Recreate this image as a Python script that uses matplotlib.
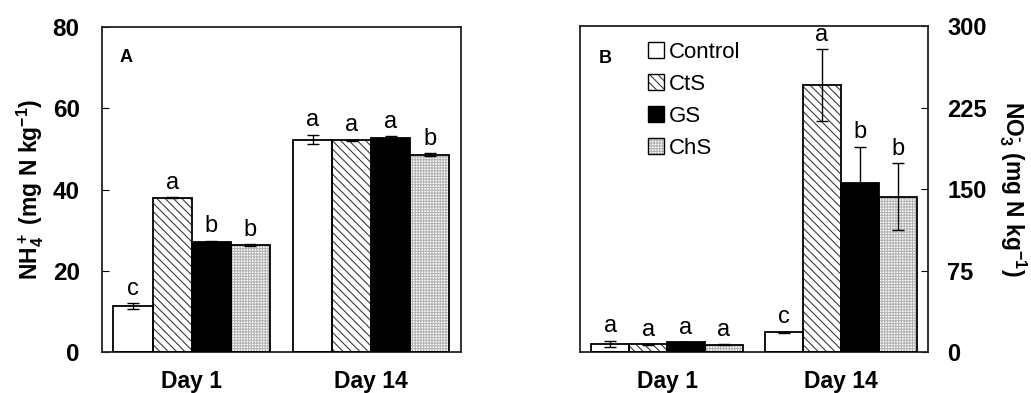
import numpy as np
import matplotlib
matplotlib.use('Agg')
import matplotlib.pyplot as plt
from matplotlib.patches import Patch

plt.rcParams['font.family'] = ['Liberation Sans', 'DejaVu Sans']
plt.rcParams['mathtext.fontset'] = 'custom'
plt.rcParams['mathtext.rm'] = 'Liberation Sans:bold'
plt.rcParams['mathtext.bf'] = 'Liberation Sans:bold'
plt.rcParams['mathtext.default'] = 'bf'
plt.rcParams['hatch.linewidth'] = 0.8

days = ['Day 1', 'Day 14']
treatments = ['Control', 'CtS', 'GS', 'ChS']

# panel A: NH4+ (mg N/kg)
nh4_mean = {'Control': [11.3, 52.3], 'CtS': [38.0, 52.1], 'GS': [27.1, 52.8], 'ChS': [26.3, 48.6]}
nh4_err = {'Control': [0.8, 1.2], 'CtS': [0.1, 0.2], 'GS': [0.3, 0.3], 'ChS': [0.2, 0.3]}
nh4_letters = {'Control': ['c', 'a'], 'CtS': ['a', 'a'], 'GS': ['b', 'a'], 'ChS': ['b', 'b']}

# panel B: NO3- (mg N/kg)
no3_mean = {'Control': [7.5, 18.0], 'CtS': [7.1, 246.0], 'GS': [8.9, 156.0], 'ChS': [6.8, 143.0]}
no3_err = {'Control': [2.8, 0.8], 'CtS': [0.3, 33.0], 'GS': [0.3, 33.0], 'ChS': [0.3, 31.0]}
no3_letters = {'Control': ['a', 'c'], 'CtS': ['a', 'a'], 'GS': ['a', 'b'], 'ChS': ['a', 'b']}

styles = {
    'Control': dict(facecolor='white', hatch=None, hcolor='black'),
    'CtS': dict(facecolor='white', hatch='\\\\\\\\', hcolor='#3a3a3a'),
    'GS': dict(facecolor='black', hatch=None, hcolor='black'),
    'ChS': dict(facecolor='white', hatch='++++++', hcolor='#b4b4b4'),
}

bar_w = 0.218
x = np.arange(len(days))


def draw_panel(ax, means, errs, letters):
    for i, t in enumerate(treatments):
        pos = x + (i - 1.5) * bar_w
        st = styles[t]
        ax.bar(pos, means[t], bar_w, facecolor=st['facecolor'], edgecolor=st['hcolor'],
               hatch=st['hatch'], linewidth=0, zorder=2)
        ax.bar(pos, means[t], bar_w, fill=False, edgecolor='black', linewidth=1.3, zorder=3)
        ax.errorbar(pos, means[t], yerr=errs[t], fmt='none', ecolor='black',
                    elinewidth=1.0, capsize=4, capthick=1.0, zorder=4)
        for p, m, e, l in zip(pos, means[t], errs[t], letters[t]):
            ax.annotate(l, (p, m + e), xytext=(0, 6), textcoords='offset points',
                        ha='center', va='baseline', fontsize=17)
    ax.set_xlim(-0.5, 1.5)
    ax.set_xticks(x)
    ax.set_xticklabels(days, fontsize=16.5, fontweight='bold')
    ax.tick_params(axis='x', length=0, pad=13)
    for s in ax.spines.values():
        s.set_linewidth(1.3)
        s.set_color('#222222')


fig = plt.figure(figsize=(10.31, 3.93), dpi=100)
axA = fig.add_axes([0.0989, 0.1043, 0.3482, 0.827])
axB = fig.add_axes([0.5626, 0.1043, 0.3375, 0.829])

draw_panel(axA, nh4_mean, nh4_err, nh4_letters)
axA.set_ylim(0, 80)
axA.set_yticks([0, 20, 40, 60, 80])
axA.tick_params(axis='y', direction='in', length=5, pad=16, labelsize=17.5)
for lab in axA.get_yticklabels():
    lab.set_fontweight('bold')
axA.set_ylabel('NH$_4^+$ (mg N kg$^{-1}$)', fontsize=16.5, fontweight='bold', labelpad=5)
axA.text(0.067, 0.905, 'A', transform=axA.transAxes, fontsize=13, fontweight='bold',
         ha='center', va='center')

draw_panel(axB, no3_mean, no3_err, no3_letters)
axB.set_ylim(0, 300)
axB.set_yticks([0, 75, 150, 225, 300])
axB.yaxis.tick_right()
axB.yaxis.set_label_position('right')
axB.tick_params(axis='y', direction='in', length=5, pad=14, labelsize=17)
for lab in axB.get_yticklabels():
    lab.set_fontweight('bold')
axB.set_ylabel('NO$_3^{\\text{-}}$ (mg N kg$^{-1}$)', fontsize=16.5, fontweight='bold',
               rotation=270, labelpad=30)
axB.text(0.072, 0.90, 'B', transform=axB.transAxes, fontsize=13, fontweight='bold',
         ha='center', va='center')

handles = []
for t in treatments:
    st = styles[t]
    fill = Patch(facecolor=st['facecolor'], edgecolor=st['hcolor'], hatch=st['hatch'], linewidth=0)
    outline = Patch(fill=False, edgecolor='black', linewidth=1.0)
    handles.append((fill, outline))
axB.legend(handles, treatments, loc='upper left', bbox_to_anchor=(0.15, 1.0), frameon=False,
           fontsize=16, handlelength=0.75, handleheight=0.75, handletextpad=0.2,
           labelspacing=0.5, borderaxespad=0.3)

fig.savefig('out.png', dpi=100)
